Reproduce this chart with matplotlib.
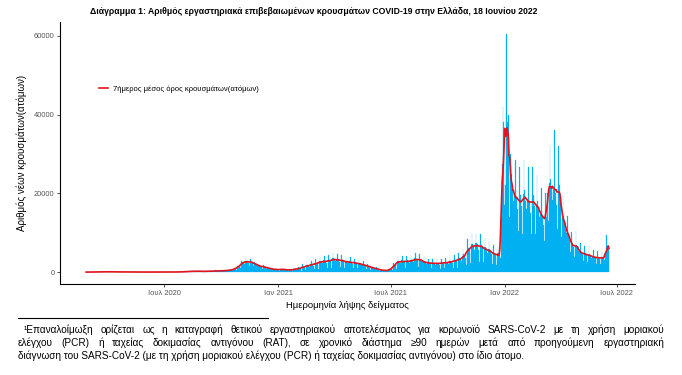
import numpy as np
import pandas as pd
import matplotlib
matplotlib.use("Agg")
import matplotlib.pyplot as plt

plt.rcParams['font.family'] = ['Liberation Sans', 'DejaVu Sans']

# daily new cases by sampling date, 26 Feb 2020 - 18 Jun 2022
feb20 = [1, 2, 1, 0]
mar20 = [2, 11, 13, 11, 10, 10, 9, 6, 33, 39, 33, 32, 30, 26, 18, 55, 65, 55, 52, 50, 43, 30,
         77, 91, 77, 74, 70, 60, 42, 88, 104]
apr20 = [88, 84, 80, 68, 48, 66, 78, 66, 63, 60, 51, 36, 55, 65, 55, 52, 50, 43, 30,
         44, 52, 44, 42, 40, 34, 24, 22, 26, 22, 21]
may20 = [20, 17, 12, 16, 20, 16, 16, 15, 13, 9, 11, 13, 11, 10, 10, 9, 6, 11, 13, 11, 10, 10, 9, 6,
         11, 13, 11, 10, 10, 9, 6]
jun20 = [9, 10, 9, 8, 8, 7, 5, 11, 13, 11, 10, 10, 9, 6, 16, 20, 16, 16, 15, 13, 9,
         16, 20, 16, 16, 15, 13, 9, 22, 26]
jul20 = [22, 21, 20, 17, 12, 22, 26, 22, 21, 20, 17, 12, 28, 33, 28, 26, 25, 21, 15,
         33, 39, 33, 32, 30, 26, 18, 66, 78, 66, 63, 60]
aug20 = [51, 36, 132, 156, 132, 126, 120, 102, 72, 198, 234, 198, 189, 180, 153, 108,
         231, 273, 231, 220, 210, 178, 126, 253, 299, 253, 241, 230, 195, 138, 198]
sep20 = [234, 198, 189, 180, 153, 108, 242, 286, 242, 231, 220, 187, 132, 308, 364, 308, 294, 280, 238, 168,
         352, 416, 352, 336, 320, 272, 192, 352, 416, 352]
oct20 = [336, 320, 272, 192, 396, 468, 396, 378, 360, 306, 216, 528, 624, 528, 504, 480, 408, 288,
         650, 850, 780, 850, 900, 800, 600, 1150, 1500, 1450, 1550, 1600, 1400]
nov20 = [1000, 2300, 2900, 2550, 2600, 2500, 2100, 1500, 2850, 3400, 2900, 2800, 2700, 2250, 1550,
         2800, 3300, 2800, 2650, 2500, 2100, 1450, 2300, 2650, 2250, 2100, 1950, 1650, 1150, 1750]
dec20 = [1950, 1650, 1550, 1500, 1250, 900, 1430, 1690, 1430, 1365, 1300, 1105, 780,
         1100, 1300, 1100, 1050, 1000, 850, 600, 825, 975, 825, 790, 750, 640, 450, 715, 845, 715, 680]
jan21 = [650, 553, 260, 770, 1050, 770, 735, 700, 595, 280, 660, 900, 660, 630, 600, 510, 240,
         605, 825, 605, 578, 550, 468, 220, 770, 1050, 770, 735, 700, 595, 280]
feb21 = [990, 1350, 990, 945, 900, 765, 360, 1430, 1950, 1430, 1365, 1300, 1105, 520,
         1760, 2400, 1760, 1680, 1600, 1360, 640, 2090, 2850, 2090, 1995, 1900, 1615, 760]
mar21 = [2420, 3300, 2420, 2310, 2200, 1870, 880, 2860, 3900, 2860, 2730, 2600, 2210, 1040,
         2970, 4050, 2970, 2835, 2700, 2295, 1080, 3190, 4350, 3190, 3045, 2900, 2465, 1160, 3520, 4800, 3520]
apr21 = [3360, 3200, 2720, 1280, 3410, 4650, 3410, 3255, 3100, 2635, 1240, 3190, 4350, 3190, 3045, 2900, 2465, 1160,
         2860, 3900, 2860, 2730, 2600, 2210, 1040, 2750, 3750, 2750, 2625, 2500]
may21 = [2125, 1000, 2530, 3450, 2530, 2415, 2300, 1955, 920, 2310, 3150, 2310, 2205, 2100, 1785, 840,
         1980, 2700, 1980, 1890, 1800, 1530, 720, 1595, 2175, 1595, 1523, 1450, 1233, 580, 1210]
jun21 = [1650, 1210, 1155, 1100, 935, 440, 880, 1200, 880, 840, 800, 680, 320, 550, 750, 550, 525, 500, 425, 200,
         440, 600, 440, 420, 400, 340, 160, 500, 900, 750]
jul21 = [850, 900, 800, 450, 1400, 2300, 1900, 2000, 2100, 1800, 900, 2860, 3900, 2860, 2730, 2600, 2210, 1040,
         2970, 4050, 2970, 2835, 2700, 2295, 1080, 2970, 4050, 2970, 2835, 2700, 2295]
aug21 = [1080, 3190, 4350, 3190, 3045, 2900, 2465, 1160, 3520, 4800, 3520, 3360, 3200, 2720, 1280,
         3410, 4650, 3410, 3255, 3100, 2635, 1240, 2750, 3750, 2750, 2625, 2500, 2125, 1000, 2530, 3450]
sep21 = [2530, 2415, 2300, 1955, 920, 2420, 3300, 2420, 2310, 2200, 1870, 880, 2420, 3300, 2420, 2310, 2200, 1870, 880,
         2530, 3450, 2530, 2415, 2300, 1955, 920, 2640, 3600, 2640, 2520]
oct21 = [2400, 2040, 960, 2860, 3900, 2860, 2730, 2600, 2210, 1040, 3190, 4350, 3190, 3045, 2900, 2465, 1160,
         3630, 4950, 3630, 3465, 3300, 2805, 1320, 4000, 5800, 4500, 4400, 4300, 3700, 1800]
nov21 = [5700, 8300, 6200, 6000, 5800, 4900, 2300, 7260, 9900, 7260, 6930, 6600, 5610, 2640,
         7370, 10050, 7370, 7035, 6700, 5695, 2680, 7150, 9750, 7150, 6825, 6500, 5525, 2600, 6380, 8700]
dec21 = [6380, 6090, 5800, 4930, 2320, 5830, 7950, 5830, 5565, 5300, 4505, 2120, 5060, 6900, 5060, 4830, 4600, 3910, 1840,
         4730, 6450, 4730, 4515, 4300, 3655, 1720, 14000, 27500, 42000, 38000, 36000]
jan22 = [17000, 22000, 40000, 60500, 28000, 38000, 40000, 28000, 14000, 30000, 29000, 25000, 23000, 21000, 18000, 10000,
         19950, 28500, 20900, 19000, 18050, 16150, 10450, 18690, 26700, 19580, 17800, 16910, 15130, 9790, 19950]
feb22 = [28500, 20900, 19000, 18050, 16150, 10450, 18690, 26700, 19580, 17800, 16910, 15130, 9790,
         18690, 26700, 19580, 17800, 16910, 15130, 9790, 17325, 24750, 18150, 16500, 15675, 14025, 9075, 14910]
mar22 = [21300, 15620, 14200, 13490, 12070, 7810, 13500, 20000, 14000, 16000, 20000, 19000, 13000,
         22575, 32250, 23650, 21500, 20425, 18275, 11825, 21000, 36000, 22000, 20000, 19000, 17000, 11000,
         21500, 32000, 22000, 20000]
apr22 = [19000, 16000, 9000, 13650, 19500, 14300, 13000, 12350, 11050, 7150, 9975, 14250, 10450, 9500, 9025, 8075, 5225,
         7140, 10200, 7480, 6800, 6460, 5780, 3740, 6615, 10500, 6930, 6300, 6115, 5355]
may22 = [3465, 5145, 7350, 5390, 4900, 4655, 4165, 2695, 4725, 6750, 4950, 4500, 4275, 3825, 2475,
         4410, 6300, 4620, 4200, 3990, 3570, 2310, 3990, 5700, 4180, 3800, 3610, 3230, 2090, 3780, 5400]
jun22 = [3960, 3600, 3420, 3060, 1980, 3780, 5400, 3960, 3600, 3420, 3060, 1980, 4500, 9400, 6200, 6000, 6500, 5200]

cases = (feb20 + mar20 + apr20 + may20 + jun20 + jul20 + aug20 + sep20 + oct20 + nov20 + dec20
         + jan21 + feb21 + mar21 + apr21 + may21 + jun21 + jul21 + aug21 + sep21 + oct21 + nov21 + dec21
         + jan22 + feb22 + mar22 + apr22 + may22 + jun22)
dates = pd.date_range('2020-02-26', periods=len(cases), freq='D')

tick_dates = pd.to_datetime(['2020-07-01', '2021-01-01', '2021-07-01', '2022-01-01', '2022-07-01'])
tick_labels = ['Ιουλ 2020', 'Ιαν 2021', 'Ιουλ 2021', 'Ιαν 2022', 'Ιουλ 2022']
y_ticks = [0, 20000, 40000, 60000]

s = pd.Series(cases, index=dates)
ma7 = s.rolling(7, center=True, min_periods=1).mean()

fig = plt.figure(figsize=(6.82, 3.75), dpi=100)
ax = fig.add_axes([60 / 682, 1 - 284 / 375, 575 / 682, 262 / 375])

ax.bar(dates, cases, width=1.0, color='#00b0f0', edgecolor='#00b0f0', linewidth=0.15)
ax.plot(dates, ma7, color='#e3141b', lw=1.2, label='7ήμερος μέσος όρος κρουσμάτων(ατόμων)')

span = dates[-1] - dates[0]
ax.set_xlim(dates[0] - span * 0.05, dates[-1] + span * 0.05)
ax.set_ylim(-3025, 63525)
ax.set_xticks(tick_dates)
ax.set_xticklabels(tick_labels)
ax.set_yticks(y_ticks)
ax.set_yticklabels([str(v) for v in y_ticks])
ax.tick_params(axis='both', labelsize=5.4, colors='#333333', labelcolor='#555555', length=2.5, width=0.6, pad=1.5)

for side in ['top', 'right']:
    ax.spines[side].set_visible(False)
for side in ['left', 'bottom']:
    ax.spines[side].set_linewidth(0.8)
    ax.spines[side].set_color('black')

ax.set_xlabel('Ημερομηνία λήψης δείγματος', fontsize=6.8, labelpad=3)
ax.set_ylabel('Αριθμός νέων κρουσμάτων(ατόμων)', fontsize=7, labelpad=5)

ax.legend(loc='center left', bbox_to_anchor=(0.055, 0.745), frameon=False, fontsize=5.5,
          handlelength=1.3, handletextpad=0.6)

fig.text(314 / 682, 1 - 12 / 375, 'Διάγραμμα 1: Αριθμός εργαστηριακά επιβεβαιωμένων κρουσμάτων COVID-19 στην Ελλάδα, 18 Ιουνίου 2022',
         ha='center', va='center', fontsize=6.2, fontweight='bold')

# footnote with justified lines
fig.add_artist(plt.Line2D([18 / 682, 268 / 682], [1 - 318 / 375, 1 - 318 / 375], color='black', lw=0.8))

note_lines = [
    '¹Επαναλοίμωξη ορίζεται ως η καταγραφή θετικού εργαστηριακού αποτελέσματος για κορωνοϊό SARS-CoV-2 με τη χρήση μοριακού',
    'ελέγχου (PCR) ή ταχείας δοκιμασίας αντιγόνου (RAT), σε χρονικό διάστημα ≥90 ημερών μετά από προηγούμενη εργαστηριακή',
    'διάγνωση του SARS-CoV-2 (με τη χρήση μοριακού ελέγχου (PCR) ή ταχείας δοκιμασίας αντιγόνου) στο ίδιο άτομο.',
]
note_x0 = [24, 18, 18]
note_y = [330, 343, 356]
note_just = [True, True, False]

renderer = fig.canvas.get_renderer()
W = fig.bbox.width
x1 = 664
for line, x0, y, just in zip(note_lines, note_x0, note_y, note_just):
    if not just:
        fig.text(x0 / 682, 1 - y / 375, line, fontsize=7.2, va='center', ha='left')
        continue
    words = line.split(' ')
    objs = [fig.text(0, 1 - y / 375, w, fontsize=7.2, va='center', ha='left') for w in words]
    widths = [o.get_window_extent(renderer).width for o in objs]
    gap = ((x1 - x0) / 682 * W - sum(widths)) / (len(words) - 1)
    pos = x0 / 682 * W
    for o, w in zip(objs, widths):
        o.set_x(pos / W)
        pos += w + gap

fig.savefig('out.png', dpi=100)
